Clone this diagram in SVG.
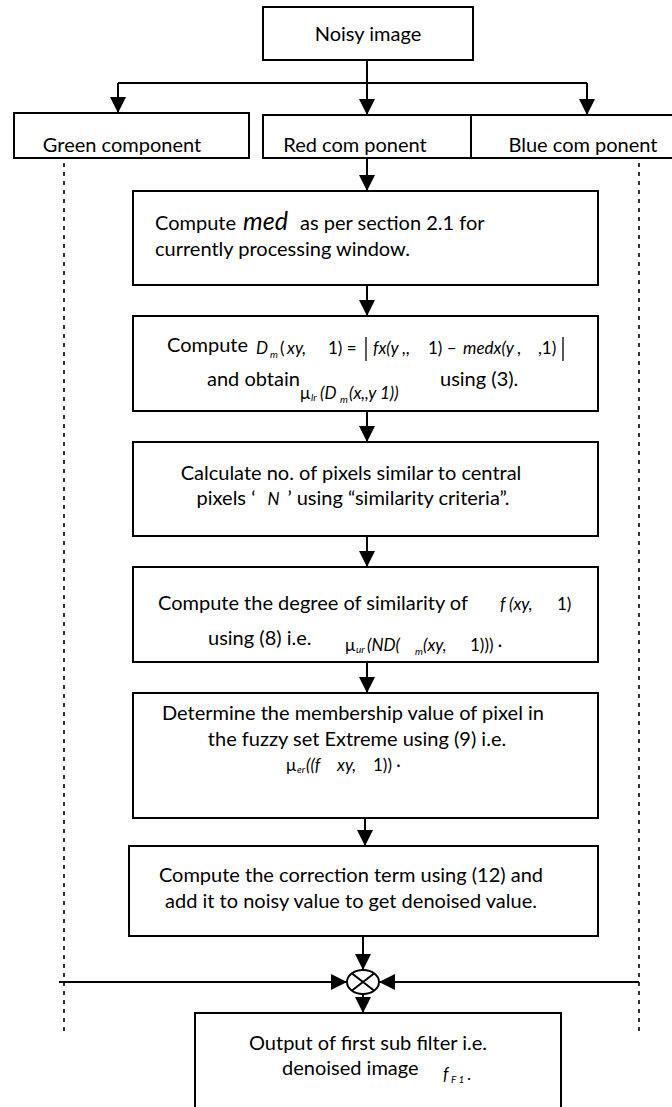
<svg xmlns="http://www.w3.org/2000/svg" width="672" height="1107" viewBox="0 0 672 1107">
  <style>
    .box { fill: #fff; stroke: #000; stroke-width: 2; }
    .t { font-family: Lato, "Liberation Sans", sans-serif; font-size: 20px; fill: #000; }
    .mi { font-family: Lato, "Liberation Sans", sans-serif; font-style: italic; font-size: 17px; fill: #000; }
    .mr { font-family: Lato, "Liberation Sans", sans-serif; font-size: 17px; fill: #000; }
    .sub { font-family: Lato, "Liberation Sans", sans-serif; font-style: italic; font-size: 10px; fill: #000; }
    .big { font-family: Lato, "Liberation Sans", sans-serif; font-style: italic; font-size: 25px; fill: #000; }
    .conn { stroke: #000; stroke-width: 2; fill: none; }
    .dash { stroke: #000; stroke-width: 1.6; fill: none; stroke-dasharray: 4 5; }
    .bar { stroke: #000; stroke-width: 1.3; }
  </style>
  <defs>
    <marker id="arrow" markerUnits="userSpaceOnUse" markerWidth="17" markerHeight="17" refX="16" refY="8" orient="auto">
      <path d="M0,0 L16,8 L0,16 z" fill="#000"/>
    </marker>
  </defs>

  <rect width="672" height="1107" fill="#fff"/>

  <!-- connectors -->
  <g id="connectors">
    <path class="conn" d="M367,60 V83"/>
    <path class="conn" d="M118,83 H587"/>
    <path class="conn" d="M118,83 V113" marker-end="url(#arrow)"/>
    <path class="conn" d="M367,83 V115" marker-end="url(#arrow)"/>
    <path class="conn" d="M587,83 V115" marker-end="url(#arrow)"/>
    <path class="conn" d="M367,158 V191" marker-end="url(#arrow)"/>
    <path class="conn" d="M367,285 V316" marker-end="url(#arrow)"/>
    <path class="conn" d="M367,411 V442" marker-end="url(#arrow)"/>
    <path class="conn" d="M367,536 V567" marker-end="url(#arrow)"/>
    <path class="conn" d="M367,662 V693" marker-end="url(#arrow)"/>
    <path class="conn" d="M365,818 V846" marker-end="url(#arrow)"/>
    <path class="conn" d="M363,936 V970" marker-end="url(#arrow)"/>
    <path class="dash" d="M64,163 V1035"/>
    <path class="dash" d="M639,163 V1035"/>
    <path class="conn" d="M59,982 H347" marker-end="url(#arrow)"/>
    <path class="conn" d="M639,982 H379" marker-end="url(#arrow)"/>
    <path class="conn" d="M363,994 V1013" marker-end="url(#arrow)"/>
  </g>

  <!-- input -->
  <g id="noisy">
    <rect class="box" x="263" y="7" width="210" height="53"/>
    <text class="t" x="368" y="41" text-anchor="middle">Noisy image</text>
  </g>

  <!-- colour planes -->
  <g id="green">
    <rect class="box" x="14" y="113" width="235" height="45"/>
    <text class="t" x="122" y="152" text-anchor="middle">Green component</text>
  </g>
  <g id="red">
    <rect class="box" x="263" y="115" width="208" height="43"/>
    <text class="t" x="355" y="152" text-anchor="middle">Red com ponent</text>
  </g>
  <g id="blue">
    <rect class="box" x="471" y="115" width="204" height="43"/>
    <text class="t" x="583" y="152" text-anchor="middle">Blue com ponent</text>
  </g>

  <!-- step 1: median -->
  <g id="step-med">
    <rect class="box" x="133" y="191" width="465" height="94"/>
    <text class="t" x="155" y="230">Compute</text>
    <text class="big" x="243" y="230">med</text>
    <text class="t" x="300" y="230">as per section 2.1 for</text>
    <text class="t" x="155" y="256">currently processing window.</text>
  </g>

  <!-- step 2: difference -->
  <g id="step-diff">
    <rect class="box" x="133" y="316" width="465" height="95"/>
    <text class="t" x="167" y="352">Compute</text>
    <text class="mi" x="256" y="354">D</text>
    <text class="sub" x="270" y="358">m</text>
    <text class="mr" x="280" y="354">(</text>
    <text class="mi" x="287" y="354">xy,</text>
    <text class="mr" x="328" y="354">1) =</text>
    <line class="bar" x1="366" y1="337" x2="366" y2="361"/>
    <text class="mi" x="373" y="354">fx(y ,,</text>
    <text class="mr" x="428" y="354">1) –</text>
    <text class="mi" x="463" y="354">medx(y ,</text>
    <text class="mr" x="538" y="354">,1)</text>
    <line class="bar" x1="563" y1="337" x2="563" y2="361"/>
    <text class="t" x="207" y="386">and obtain</text>
    <text class="mr" x="300" y="399">μ</text>
    <text class="sub" x="311" y="401">lr</text>
    <text class="mi" x="320" y="399">(D</text>
    <text class="sub" x="340" y="403">m</text>
    <text class="mi" x="349" y="399">(x,,y 1))</text>
    <text class="t" x="440" y="386">using (3).</text>
  </g>

  <!-- step 3: similar pixels -->
  <g id="step-count">
    <rect class="box" x="133" y="442" width="465" height="94"/>
    <text class="t" x="351" y="480" text-anchor="middle">Calculate no. of pixels similar to central</text>
    <text class="t" x="353" y="505" text-anchor="middle">pixels ‘<tspan class="mi" dx="12">N</tspan><tspan dx="8">’ using “similarity criteria”.</tspan></text>
  </g>

  <!-- step 4: degree of similarity -->
  <g id="step-similarity">
    <rect class="box" x="133" y="567" width="465" height="95"/>
    <text class="t" x="158" y="610">Compute the degree of similarity of</text>
    <text class="mi" x="500" y="610">f</text>
    <text class="mi" x="509" y="610">(xy,</text>
    <text class="mr" x="557" y="610">1)</text>
    <text class="t" x="208" y="645">using (8) i.e.</text>
    <text class="mr" x="345" y="651">μ</text>
    <text class="sub" x="356" y="653">ur</text>
    <text class="mi" x="367" y="651">(ND(</text>
    <text class="sub" x="415" y="655">m</text>
    <text class="mi" x="423" y="651">(xy,</text>
    <text class="mr" x="470" y="651">1))) ·</text>
  </g>

  <!-- step 5: extreme membership -->
  <g id="step-extreme">
    <rect class="box" x="133" y="693" width="465" height="125"/>
    <text class="t" x="353" y="720" text-anchor="middle">Determine the membership value of pixel in</text>
    <text class="t" x="357" y="746" text-anchor="middle">the fuzzy set Extreme using (9) i.e.</text>
    <text class="mr" x="286" y="771">μ</text>
    <text class="sub" x="297" y="773">er</text>
    <text class="mi" x="306" y="771">((f</text>
    <text class="mi" x="337" y="771">xy,</text>
    <text class="mr" x="373" y="771">1)) ·</text>
  </g>

  <!-- step 6: correction -->
  <g id="step-correct">
    <rect class="box" x="129" y="846" width="469" height="90"/>
    <text class="t" x="351" y="882" text-anchor="middle">Compute the correction term using (12) and</text>
    <text class="t" x="351" y="908" text-anchor="middle">add it to noisy value to get denoised value.</text>
  </g>

  <!-- combiner -->
  <g id="combine">
    <ellipse cx="363" cy="982" rx="16" ry="12" fill="#fff" stroke="#000" stroke-width="2"/>
    <path class="conn" d="M352,973.5 L374,990.5 M352,990.5 L374,973.5"/>
  </g>

  <!-- output -->
  <g id="output">
    <rect class="box" x="195" y="1013" width="366" height="110"/>
    <text class="t" x="368" y="1050" text-anchor="middle">Output of first sub filter i.e.</text>
    <text class="t" x="282" y="1075">denoised image</text>
    <text class="mi" x="443" y="1080">f</text>
    <text class="sub" x="451" y="1083">F 1</text>
    <text class="mr" x="467" y="1080">.</text>
  </g>
</svg>
